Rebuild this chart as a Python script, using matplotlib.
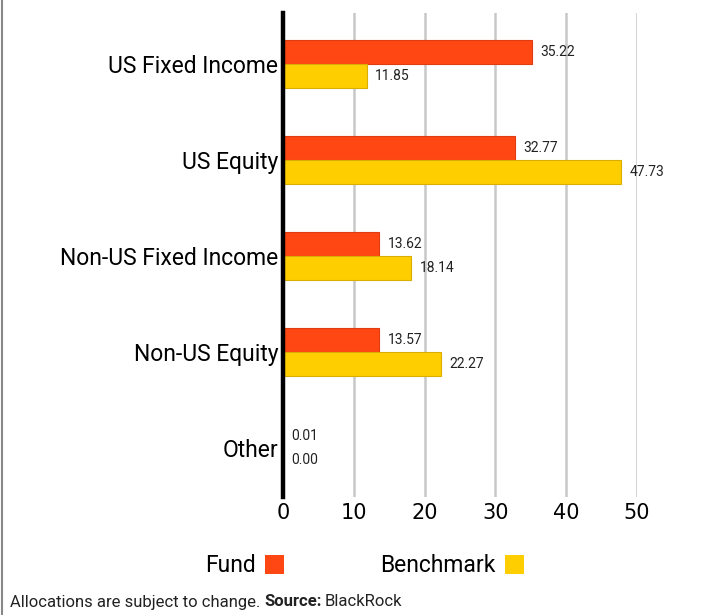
import matplotlib
matplotlib.use("Agg")
import matplotlib.pyplot as plt
from matplotlib.patches import Patch
from matplotlib.lines import Line2D
import numpy as np

plt.rcParams['font.family'] = ['Roboto', 'DejaVu Sans']

categories = ["US Fixed Income", "US Equity", "Non-US Fixed Income", "Non-US Equity", "Other"]
fund = [35.22, 32.77, 13.62, 13.57, 0.01]
benchmark = [11.85, 47.73, 18.14, 22.27, 0.00]
xticks = [0, 10, 20, 30, 40, 50]
series_names = ["Fund", "Benchmark"]

fund_color = "#FF4713"
fund_edge = "#E03C10"
bench_color = "#FFCE00"
bench_edge = "#D9AE00"

fig = plt.figure(figsize=(7.15, 6.15), dpi=100)
ax = fig.add_axes([283/715, 1-497/615, (637-283)/715, (497-13)/615])

y = np.arange(len(categories))
h = 0.25
ax.barh(y - h/2, fund, height=h, color=fund_color, edgecolor=fund_edge, linewidth=0.8, zorder=3)
ax.barh(y + h/2, benchmark, height=h, color=bench_color, edgecolor=bench_edge, linewidth=0.8, zorder=3)

for yi, v in zip(y, fund):
    ax.annotate(f"{v:.2f}", xy=(v, yi - h/2), xytext=(6, 0), textcoords="offset points",
                va="center", ha="left", fontsize=10, color="#222222")
for yi, v in zip(y, benchmark):
    ax.annotate(f"{v:.2f}", xy=(v, yi + h/2), xytext=(6, 0), textcoords="offset points",
                va="center", ha="left", fontsize=10, color="#222222")

ax.set_xlim(0, 50)
ax.set_ylim(len(categories) - 1 + 0.51, -0.53)
ax.set_yticks(y)
ax.set_yticklabels(categories, fontsize=16.5)
ax.set_xticks(xticks)
ax.set_xticklabels([str(t) for t in xticks], fontsize=15, family="DejaVu Sans")
ax.tick_params(axis="y", length=0, pad=3.5)
ax.tick_params(axis="x", length=0, pad=4.5)

for s in ["top", "right", "bottom"]:
    ax.spines[s].set_visible(False)
ax.spines["left"].set_linewidth(3.2)
ax.spines["left"].set_color("black")
ax.spines["left"].set_zorder(5)

ax.grid(axis="x", color="#c8c8c8", linewidth=1.8, zorder=0)
ax.set_axisbelow(True)

handles = [Patch(facecolor=fund_color, edgecolor="none"),
           Patch(facecolor=bench_color, edgecolor="none")]
fig.legend(handles, series_names, loc="center", bbox_to_anchor=(0.51, 1-566/615), ncol=2,
           frameon=False, markerfirst=False, fontsize=16.5, handlelength=0.85, handleheight=0.85,
           handletextpad=0.4, columnspacing=4.2)

# left border line
fig.add_artist(Line2D([2/715, 2/715], [0, 1], transform=fig.transFigure, color="#888888", linewidth=1.5))

ypos = 1-602/615
t1 = fig.text(10/715, ypos, "Allocations are subject to change. ", fontsize=12, va="center", ha="left", color="#222222")
t2 = fig.text(0, 0, "Source:", fontsize=12, fontweight="bold", va="center", ha="left", color="#222222")
fig.canvas.draw()
r = fig.canvas.get_renderer()
bb1 = t1.get_window_extent(r)
t2.set_position((bb1.x1/715, ypos))
bb2 = t2.get_window_extent(r)
fig.text(bb2.x1/715 + 3/715, ypos, "BlackRock", fontsize=12, va="center", ha="left", color="#222222")

fig.savefig("out.png", dpi=100)
